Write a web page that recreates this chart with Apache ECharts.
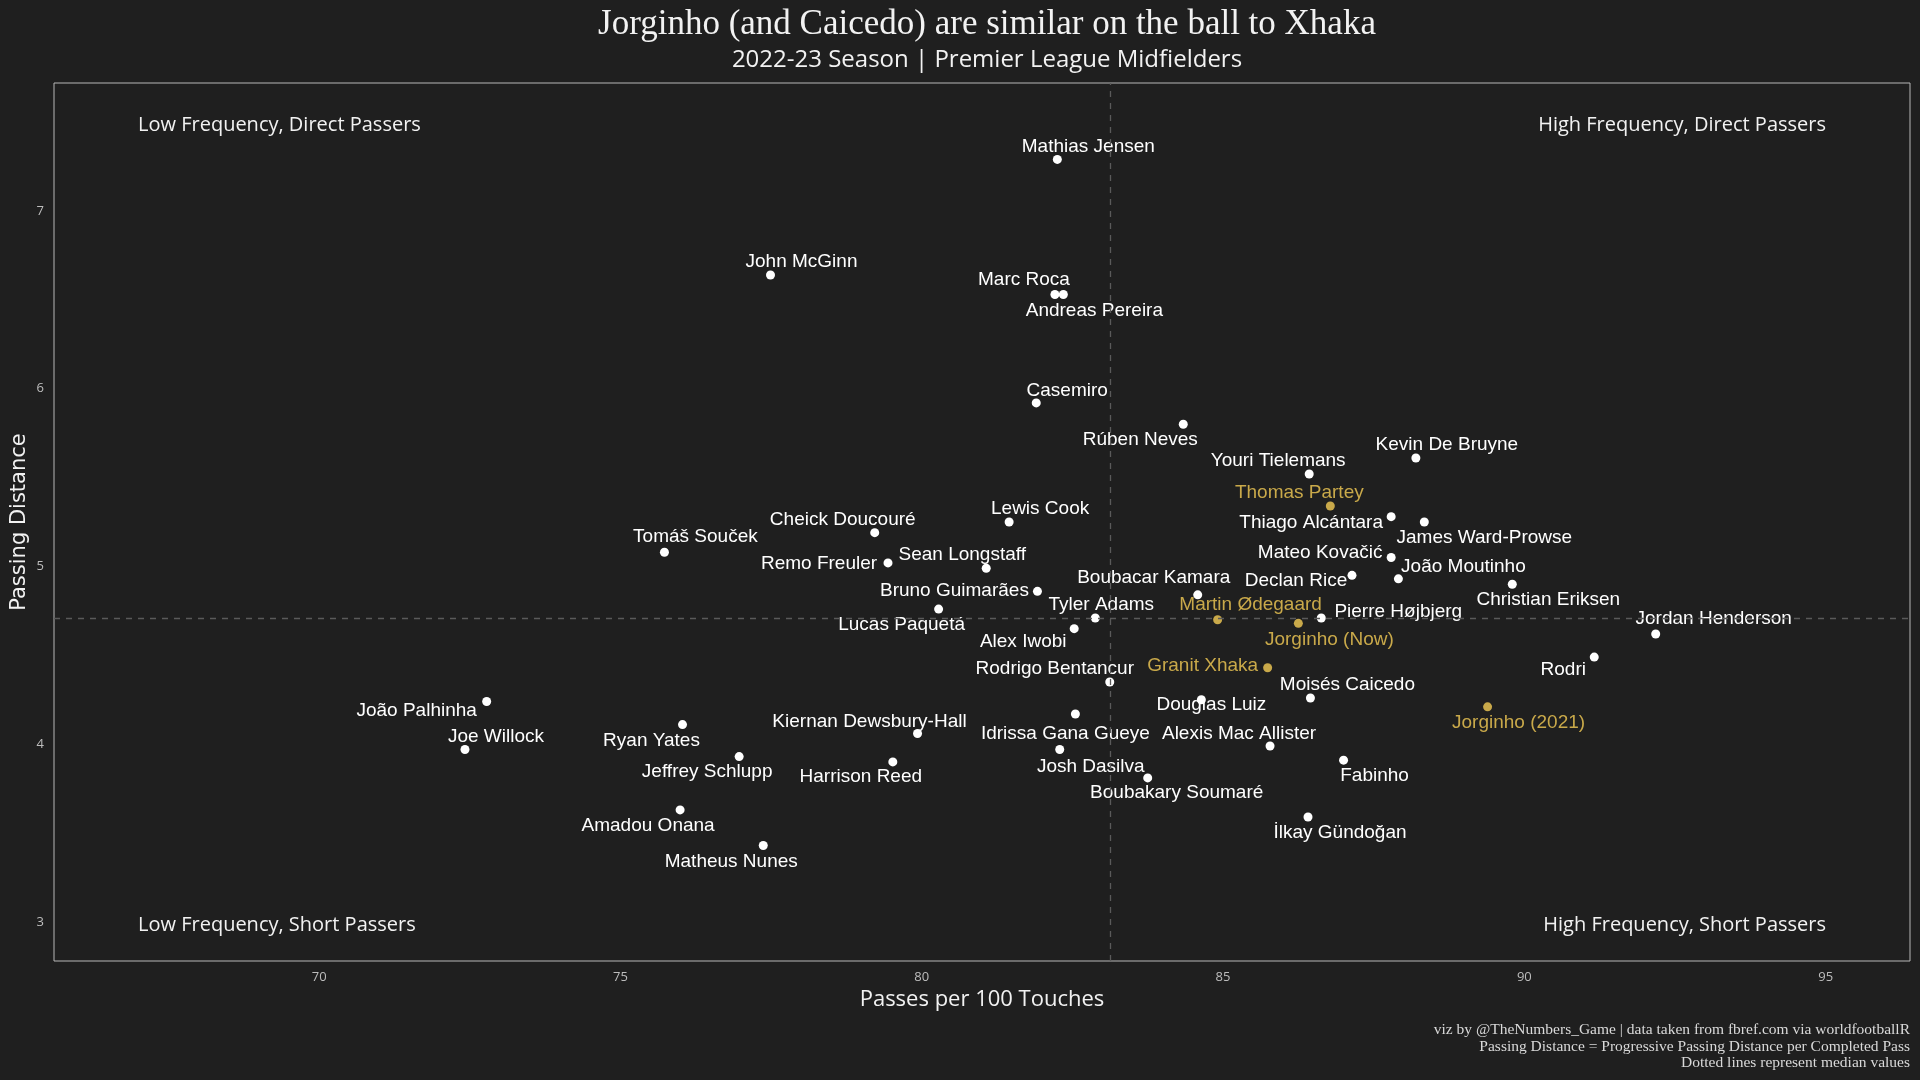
<!DOCTYPE html>
<html>
<head>
<meta charset="utf-8">
<script src="https://cdn.jsdelivr.net/npm/echarts@6/dist/echarts.min.js"></script>
<style>
  html, body { margin: 0; padding: 0; background: #1f1f1f; }
  #main { width: 1920px; height: 1080px; }
</style>
</head>
<body>
<div id="main"></div>
<script>
// players, passes per 100 touches, progressive passing distance per completed pass
const players = [
  'Mathias Jensen', 'John McGinn', 'Marc Roca', 'Andreas Pereira', 'Casemiro',
  'Rúben Neves', 'Kevin De Bruyne', 'Youri Tielemans', 'Thomas Partey', 'Thiago Alcántara',
  'James Ward-Prowse', 'Lewis Cook', 'Cheick Doucouré', 'Tomáš Souček', 'Remo Freuler',
  'Sean Longstaff', 'Mateo Kovačić', 'João Moutinho', 'Declan Rice', 'Christian Eriksen',
  'Boubacar Kamara', 'Bruno Guimarães', 'Lucas Paquetá', 'Tyler Adams', 'Martin Ødegaard',
  'Jorginho (Now)', 'Pierre Højbjerg', 'Jordan Henderson', 'Alex Iwobi', 'Rodri',
  'Granit Xhaka', 'Rodrigo Bentancur', 'Moisés Caicedo', 'Douglas Luiz', 'Jorginho (2021)',
  'João Palhinha', 'Idrissa Gana Gueye', 'Ryan Yates', 'Kiernan Dewsbury-Hall', 'Alexis Mac Allister',
  'Joe Willock', 'Josh Dasilva', 'Jeffrey Schlupp', 'Fabinho', 'Harrison Reed',
  'Boubakary Soumaré', 'Amadou Onana', 'İlkay Gündoğan', 'Matheus Nunes'
];
const passesPer100 = [
  82.25, 77.49, 82.21, 82.35, 81.90,
  84.34, 88.20, 86.43, 86.78, 87.79,
  88.34, 81.45, 79.22, 75.73, 79.44,
  81.07, 87.79, 87.91, 87.14, 89.80,
  84.58, 81.92, 80.28, 82.88, 84.91,
  86.25, 86.63, 92.18, 82.53, 91.16,
  85.74, 83.12, 86.45, 84.64, 89.39,
  72.78, 82.55, 76.03, 79.93, 85.78,
  72.42, 82.29, 76.97, 87.00, 79.52,
  83.75, 75.99, 86.41, 77.37
];
const passDistance = [
  7.29, 6.64, 6.53, 6.53, 5.92,
  5.80, 5.61, 5.52, 5.34, 5.28,
  5.25, 5.25, 5.19, 5.08, 5.02,
  4.99, 5.05, 4.93, 4.95, 4.90,
  4.84, 4.86, 4.76, 4.71, 4.70,
  4.68, 4.71, 4.62, 4.65, 4.49,
  4.43, 4.35, 4.26, 4.25, 4.21,
  4.24, 4.17, 4.11, 4.06, 3.99,
  3.97, 3.97, 3.93, 3.91, 3.90,
  3.81, 3.63, 3.59, 3.43
];
const highlighted = ['Thomas Partey', 'Martin Ødegaard', 'Jorginho (Now)', 'Granit Xhaka', 'Jorginho (2021)'];
const medianX = 83.12;
const medianY = 4.71;
const xTicks = [70, 75, 80, 85, 90, 95];
const yTicks = [3, 4, 5, 6, 7];

// label nudges (px) so names sit next to their dots like a repel layout
const labelNudge = [
  [31, -13], [31, -13], [-31, -15], [31, 16], [31, -12],
  [-43, 16], [31, -13], [-31, -13], [-31, -13], [-80, 6],
  [60, 16], [31, -13], [-32, -13], [31, -15], [-69, 1],
  [-24, -13], [-71, -5], [65, -12], [-56, 5], [36, 16],
  [-44, -17], [-83, -1], [-37, 16], [6, -13], [33, -15],
  [31, 16], [77, -6], [58, -15], [-51, 13], [-31, 13],
  [-65, -2], [-55, -13], [37, -13], [10, 5], [31, 16],
  [-70, 9], [-10, 20], [-31, 16], [-48, -12], [-31, -12],
  [31, -13], [31, 17], [-32, 15], [31, 16], [-32, 15],
  [29, 15], [-32, 16], [32, 16], [-32, 16]
];

const WHITE = '#ffffff';
const GOLD = '#c9a94a';

const points = players.map((name, i) => {
  const gold = highlighted.includes(name);
  return {
    name: name,
    value: [passesPer100[i], passDistance[i]],
    itemStyle: { color: gold ? GOLD : WHITE, opacity: 1 },
    label: { color: gold ? GOLD : WHITE }
  };
});

const chart = echarts.init(document.getElementById('main'));

const cornerFont = '20px "Open Sans"';
const captionFont = '15.5px "Liberation Serif"';

const option = {
  backgroundColor: '#1f1f1f',
  animation: false,
  title: [
    {
      text: 'Jorginho (and Caicedo) are similar on the ball to Xhaka',
      left: 982, top: 2, textAlign: 'center',
      textStyle: { fontFamily: 'Liberation Serif', fontSize: 35, fontWeight: 'normal', color: '#f2f2f2' }
    },
    {
      text: '2022-23 Season | Premier League Midfielders',
      left: 982, top: 43, textAlign: 'center',
      textStyle: { fontFamily: 'Open Sans', fontSize: 24, fontWeight: 'normal', color: '#f2f2f2' }
    }
  ],
  grid: {
    left: 54, right: 10, top: 83, bottom: 119,
    outerBoundsMode: 'none', containLabel: false,
    show: true, borderColor: '#b8b8b8', borderWidth: 1, backgroundColor: 'transparent'
  },
  xAxis: {
    type: 'value', min: 65.6, max: 96.4,
    name: 'Passes per 100 Touches', nameLocation: 'middle', nameGap: 25,
    nameTextStyle: { fontFamily: 'Open Sans', fontSize: 22, color: '#f2f2f2' },
    axisLine: { show: false }, axisTick: { show: false }, splitLine: { show: false },
    axisLabel: {
      customValues: xTicks, margin: 10,
      fontFamily: 'Open Sans', fontSize: 13, color: '#bdbdbd'
    }
  },
  yAxis: {
    type: 'value', min: 2.78, max: 7.72,
    name: 'Passing Distance', nameLocation: 'middle', nameGap: 24, nameRotate: 90,
    nameMoveOverlap: false,
    nameTextStyle: { fontFamily: 'DejaVu Sans', fontSize: 21, color: '#f2f2f2' },
    axisLine: { show: false }, axisTick: { show: false }, splitLine: { show: false },
    axisLabel: {
      customValues: yTicks, margin: 10,
      fontFamily: 'Open Sans', fontSize: 13, color: '#bdbdbd'
    }
  },
  graphic: [
    { type: 'text', left: 138, top: 115, style: { text: 'Low Frequency, Direct Passers', fill: '#f2f2f2', font: cornerFont } },
    { type: 'text', right: 94, top: 115, style: { text: 'High Frequency, Direct Passers', fill: '#f2f2f2', font: cornerFont } },
    { type: 'text', left: 138, top: 915, style: { text: 'Low Frequency, Short Passers', fill: '#f2f2f2', font: cornerFont } },
    { type: 'text', right: 94, top: 915, style: { text: 'High Frequency, Short Passers', fill: '#f2f2f2', font: cornerFont } },
    { type: 'text', right: 10, top: 1022, style: { text: 'viz by @TheNumbers_Game | data taken from fbref.com via worldfootballR', fill: '#d9d9d9', font: captionFont } },
    { type: 'text', right: 10, top: 1039, style: { text: 'Passing Distance = Progressive Passing Distance per Completed Pass', fill: '#d9d9d9', font: captionFont } },
    { type: 'text', right: 10, top: 1055, style: { text: 'Dotted lines represent median values', fill: '#d9d9d9', font: captionFont } }
  ],
  series: [
    {
      type: 'scatter',
      symbolSize: 9,
      data: points,
      label: {
        show: true, position: 'inside', formatter: '{b}',
        fontFamily: 'Liberation Sans', fontSize: 19, align: 'center', verticalAlign: 'middle'
      },
      labelLayout: function (p) {
        const n = labelNudge[p.dataIndex];
        return { dx: n[0], dy: n[1], hideOverlap: false };
      },
      markLine: {
        silent: true, symbol: 'none',
        label: { show: false },
        lineStyle: { color: '#5a5a5a', type: [6, 6], width: 1.3 },
        data: [{ xAxis: medianX }, { yAxis: medianY }]
      },
      z: 3
    }
  ]
};

chart.setOption(option);
</script>
</body>
</html>
